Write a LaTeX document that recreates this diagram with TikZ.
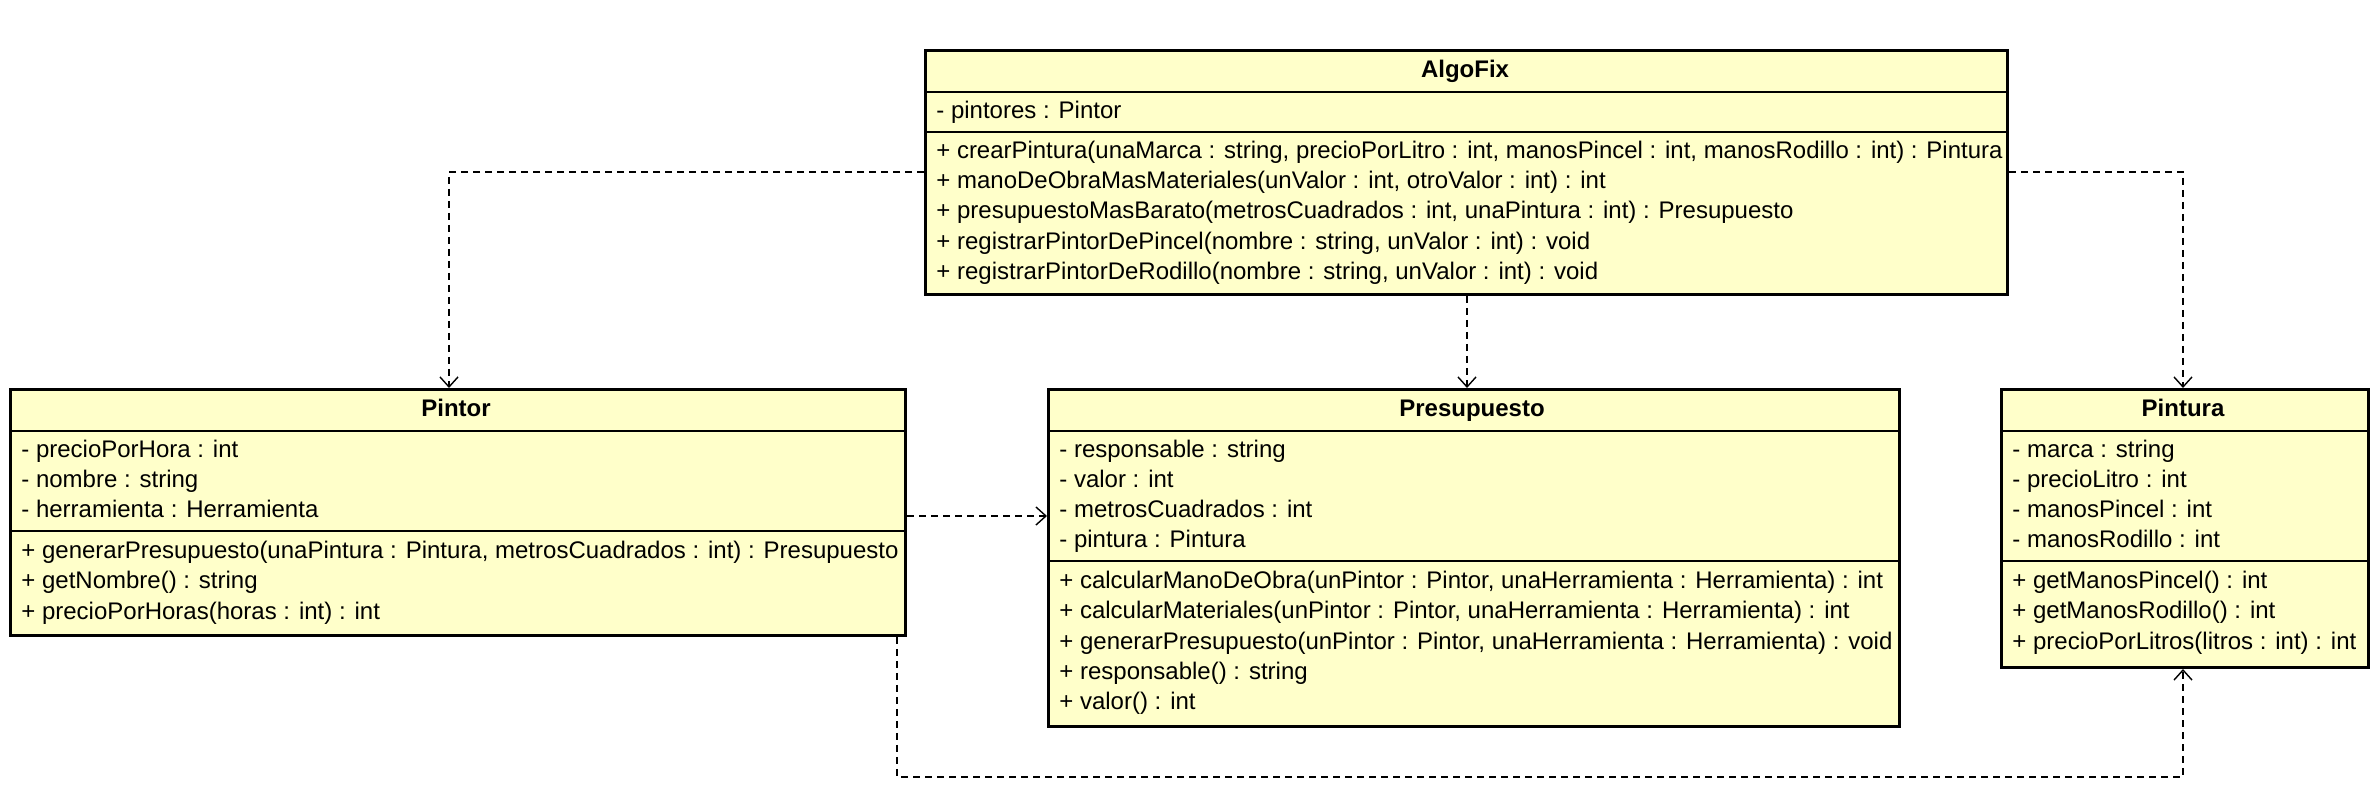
\documentclass[tikz,border=0pt]{standalone}
\usepackage{graphicx}
\usepackage{fontspec}
\setmainfont{Liberation Sans}
\usetikzlibrary{arrows.meta,calc}
\definecolor{clsfill}{HTML}{FFFFCA}
\tikzset{
  cls/.style={draw=black, line width=1.5pt, fill=clsfill, rectangle, anchor=north west, inner sep=0pt},
  sepline/.style={draw=black, line width=0.7pt},
  title/.style={font=\fontsize{12}{14}\selectfont\bfseries, inner sep=0pt, text height=8.6pt, text depth=2.4pt},
  mem/.style={font=\fontsize{12}{14}\selectfont, anchor=west, inner sep=0pt, text height=8.6pt, text depth=2.4pt},
  dep/.style={draw=black, line width=0.7pt, dash pattern=on 3.5pt off 2.5pt, -{Straight Barb[length=5pt,width=9pt,line width=0.7pt]}},
}
\begin{document}
\begin{tikzpicture}[x=0.5pt,y=-0.5pt]
\useasboundingbox (0,0) rectangle (2379,801);
\fill[white] (0,0) rectangle (2379,801);

% ---------- AlgoFix ----------
\node[cls, minimum width=541pt, minimum height=122pt] (algofix) at (924,49) {};
\node[title] (algofixT) at (1465,71) {AlgoFix};
\draw[sepline] (algofix.west |- 0,92) -- (algofix.east |- 0,92);
\node[mem] (af1) at (936,112) {- pintores : Pintor};
\draw[sepline] (algofix.west |- 0,132) -- (algofix.east |- 0,132);
\node[mem] (af2) at (936,152) {\resizebox{533pt}{\height}{+ crearPintura(unaMarca : string, precioPorLitro : int, manosPincel : int, manosRodillo : int) : Pintura}};
\node[mem] (af3) at (936,182) {+ manoDeObraMasMateriales(unValor : int, otroValor : int) : int};
\node[mem] (af4) at (936,212) {+ presupuestoMasBarato(metrosCuadrados : int, unaPintura : int) : Presupuesto};
\node[mem] (af5) at (936,243) {+ registrarPintorDePincel(nombre : string, unValor : int) : void};
\node[mem] (af6) at (936,273) {+ registrarPintorDeRodillo(nombre : string, unValor : int) : void};

% ---------- Pintor ----------
\node[cls, minimum width=447.5pt, minimum height=123pt] (pintor) at (9,388) {};
\node[title] (pintorT) at (456,410) {Pintor};
\draw[sepline] (pintor.west |- 0,431) -- (pintor.east |- 0,431);
\node[mem] (pi1) at (21,451) {- precioPorHora : int};
\node[mem] (pi2) at (21,481) {- nombre : string};
\node[mem] (pi3) at (21,511) {- herramienta : Herramienta};
\draw[sepline] (pintor.west |- 0,531) -- (pintor.east |- 0,531);
\node[mem] (pi4) at (21,552) {+ generarPresupuesto(unaPintura : Pintura, metrosCuadrados : int) : Presupuesto};
\node[mem] (pi5) at (21,582) {+ getNombre() : string};
\node[mem] (pi6) at (21,613) {+ precioPorHoras(horas : int) : int};

% ---------- Presupuesto ----------
\node[cls, minimum width=425.5pt, minimum height=168.5pt] (presu) at (1047,388) {};
\node[title] (presuT) at (1472,410) {Presupuesto};
\draw[sepline] (presu.west |- 0,431) -- (presu.east |- 0,431);
\node[mem] (pr1) at (1059,451) {- responsable : string};
\node[mem] (pr2) at (1059,481) {- valor : int};
\node[mem] (pr3) at (1059,511) {- metrosCuadrados : int};
\node[mem] (pr4) at (1059,541) {- pintura : Pintura};
\draw[sepline] (presu.west |- 0,561) -- (presu.east |- 0,561);
\node[mem] (pr5) at (1059,582) {+ calcularManoDeObra(unPintor : Pintor, unaHerramienta : Herramienta) : int};
\node[mem] (pr6) at (1059,612) {+ calcularMateriales(unPintor : Pintor, unaHerramienta : Herramienta) : int};
\node[mem] (pr7) at (1059,643) {+ generarPresupuesto(unPintor : Pintor, unaHerramienta : Herramienta) : void};
\node[mem] (pr8) at (1059,673) {+ responsable() : string};
\node[mem] (pr9) at (1059,703) {+ valor() : int};

% ---------- Pintura ----------
\node[cls, minimum width=183.5pt, minimum height=139pt] (pintura) at (2000,388) {};
\node[title] (pinturaT) at (2183,410) {Pintura};
\draw[sepline] (pintura.west |- 0,431) -- (pintura.east |- 0,431);
\node[mem] (pa1) at (2012,451) {- marca : string};
\node[mem] (pa2) at (2012,481) {- precioLitro : int};
\node[mem] (pa3) at (2012,511) {- manosPincel : int};
\node[mem] (pa4) at (2012,541) {- manosRodillo : int};
\draw[sepline] (pintura.west |- 0,561) -- (pintura.east |- 0,561);
\node[mem] (pa5) at (2012,582) {+ getManosPincel() : int};
\node[mem] (pa6) at (2012,612) {+ getManosRodillo() : int};
\node[mem] (pa7) at (2012,643) {+ precioPorLitros(litros : int) : int};

% ---------- connectors ----------
\coordinate (c1) at (449,172);
\coordinate (c2) at (2183,172);
\coordinate (c3) at (897,777);
\coordinate (c4) at (2183,777);
\draw[dep] (algofix.west |- c1) -- (c1) -- (c1 |- pintor.north);
\draw[dep] (algofix.east |- c2) -- (c2) -- (c2 |- pintura.north);
\draw[dep] (algofix.south -| 1467,0) -- (presu.north -| 1467,0);
\draw[dep] (pintor.east |- 0,516) -- (presu.west |- 0,516);
\draw[dep] (pintor.south -| c3) -- (c3) -- (c4) -- (c4 |- pintura.south);
\end{tikzpicture}
\end{document}
